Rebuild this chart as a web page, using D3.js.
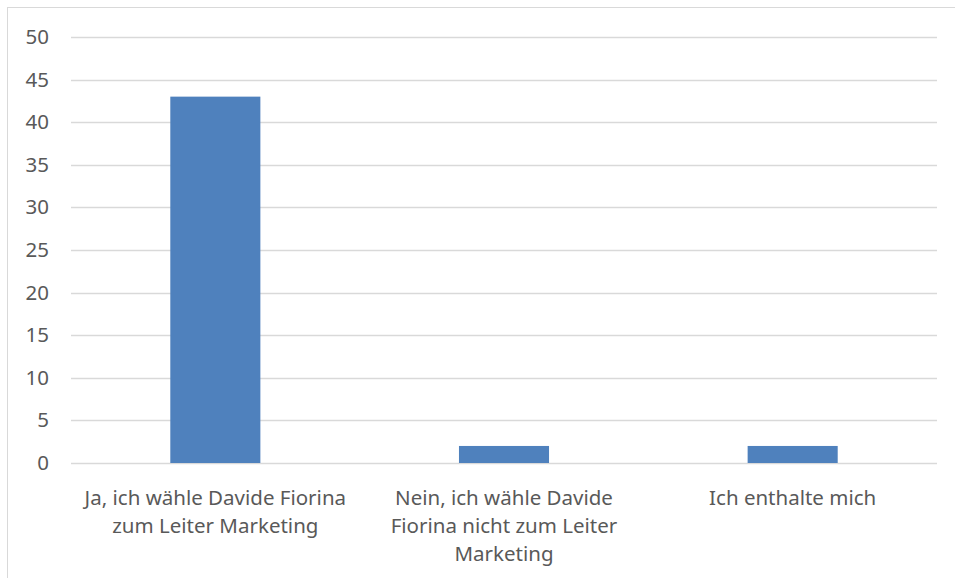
<!DOCTYPE html>
<html>
<head>
<meta charset="utf-8">
<script src="https://cdn.jsdelivr.net/npm/d3@7"></script>
<style>
  body { margin: 0; background: #fff; }
  svg { display: block; }
</style>
</head>
<body>
<svg id="chart" width="955" height="578"></svg>
<script>
// chart data
var categories = [
	"Ja, ich wähle Davide Fiorina|zum Leiter Marketing",
	"Nein, ich wähle Davide|Fiorina nicht zum Leiter|Marketing",
	"Ich enthalte mich"
];
var votes = [43, 2, 2];
var yTicks = [0, 5, 10, 15, 20, 25, 30, 35, 40, 45, 50];

var svg = d3.select('#chart');
var W = 955, H = 578;
var m = {left: 71, right: 18, top: 37, bottom: 115};
var font = "'Noto Sans', sans-serif";
var fs = '20.5px';

// outer chart frame
svg.append('rect')
	.attr('x', 7.5).attr('y', 7.5)
	.attr('width', W + 10).attr('height', H + 10)
	.attr('fill', 'none')
	.attr('stroke', '#d9d9d9');

var x = d3.scaleBand()
	.domain(categories)
	.range([m.left, W - m.right])
	.paddingInner(0.688)
	.paddingOuter(0.344);

var y = d3.scaleLinear()
	.domain([0, 50])
	.range([H - m.bottom, m.top]);

// gridlines
svg.append('g').selectAll('line')
	.data(yTicks)
	.enter()
	.append('line')
	.attr('x1', m.left).attr('x2', W - m.right)
	.attr('y1', function(d){ return Math.round(y(d)) + 0.5; })
	.attr('y2', function(d){ return Math.round(y(d)) + 0.5; })
	.attr('stroke', '#d9d9d9')
	.attr('stroke-width', 1.5);

// y labels
var yAxis = d3.axisLeft(y).tickValues(yTicks).tickSize(0).tickPadding(0);
var gy = svg.append('g')
	.attr('transform', 'translate(' + 49 + ',0)')
	.call(yAxis);
gy.select('.domain').remove();
gy.selectAll('text')
	.attr('font-family', font)
	.attr('font-size', fs)
	.attr('fill', '#595959');

// bars
svg.append('g').selectAll('rect')
	.data(votes)
	.enter()
	.append('rect')
	.attr('x', function(d, i){ return x(categories[i]); })
	.attr('width', x.bandwidth())
	.attr('y', function(d){ return y(d); })
	.attr('height', function(d){ return y(0) - y(d); })
	.attr('fill', '#4f81bd');

// category labels (wrapped as in the original)
var labels = svg.append('g').selectAll('text')
	.data(categories)
	.enter()
	.append('text')
	.attr('x', function(d){ return x(d) + x.bandwidth() / 2; })
	.attr('y', H - m.bottom + 42)
	.attr('text-anchor', 'middle')
	.attr('font-family', font)
	.attr('font-size', fs)
	.attr('fill', '#595959');

labels.selectAll('tspan')
	.data(function(d){ return d.split('|'); })
	.enter()
	.append('tspan')
	.attr('x', function(){ return d3.select(this.parentNode).attr('x'); })
	.attr('dy', function(d, i){ return i == 0 ? 0 : 28; })
	.text(function(d){ return d; });
</script>
</body>
</html>
